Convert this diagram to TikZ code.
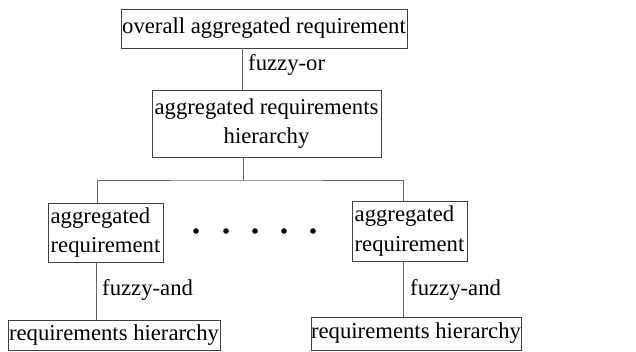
\documentclass[tikz,border=0pt]{standalone}
\usepackage{fontspec}
\setmainfont{Liberation Serif}
\begin{document}
\begin{tikzpicture}[x=1pt,y=-1pt,
      box/.style={draw=black!75,line width=0.8pt,inner sep=0pt,font=\fontsize{22.7}{29.5}\selectfont},
      lbl/.style={anchor=west,inner sep=0pt,font=\fontsize{22.7}{29.5}\selectfont},
      link/.style={draw=black!60,line width=0.6pt}]
   \useasboundingbox (0,0) rectangle (636,351);
   \node[box,minimum width=286pt,minimum height=39pt] (top) at (264,28.5) {overall aggregated requirement};
   \node[box,minimum width=229pt,minimum height=67pt,align=center] (mid) at (266.5,123.5) {aggregated requirements\\hierarchy};
   \node[box,minimum width=115pt,minimum height=59pt,align=left] (laggr) at (105.5,232.5) {aggregated\\requirement};
   \node[box,minimum width=115pt,minimum height=60pt,align=left] (raggr) at (409.5,231) {aggregated\\requirement};
   \node[box,minimum width=212pt,minimum height=30pt] (lhier) at (114,335) {requirements hierarchy};
   \node[box,minimum width=210pt,minimum height=33pt] (rhier) at (416,333.5) {requirements hierarchy};
   \coordinate (fork) at (243,180);
   \draw[link] ([xshift=-22pt]top.south) -- ([xshift=-22pt]top.south |- mid.north);
   \draw[link] (mid.south -| fork) -- (fork);
   \draw[link] ([xshift=-8.5pt]laggr.north) |- (fork) -| ([xshift=-6.5pt]raggr.north);
   \draw[link] ([xshift=-9.5pt]laggr.south) -- ([xshift=-9.5pt]laggr.south |- lhier.north);
   \draw[link] ([xshift=-6.5pt]raggr.south) -- ([xshift=-6.5pt]raggr.south |- rhier.north);
   \node[lbl] (orlbl) at (248,65) {fuzzy-or};
   \node[lbl] (landlbl) at (102,290) {fuzzy-and};
   \node[lbl] (randlbl) at (410,290) {fuzzy-and};
   \foreach \x in {196,226,255,284,313}
      \fill (\x,231) circle (2.8);
\end{tikzpicture}
\end{document}
